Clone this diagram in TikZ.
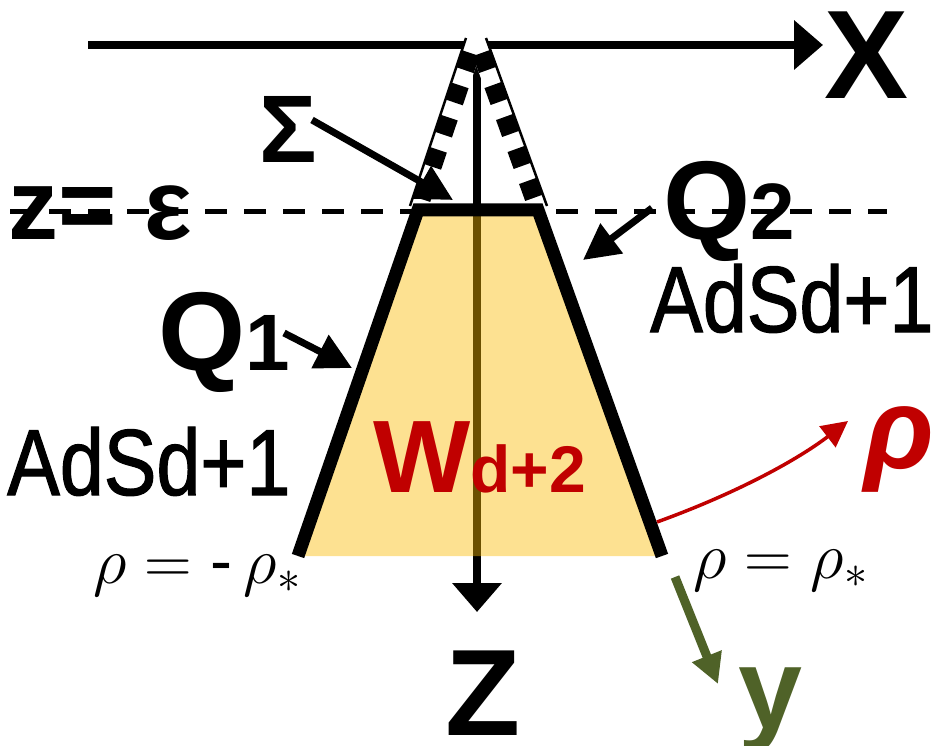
\RequirePackage{fix-cm}
\documentclass[tikz,border=0pt]{standalone}
\usepackage{fontspec}
\setmainfont{Liberation Sans}
\newfontfamily\adsfont{Liberation Sans}[FakeStretch=0.84,FakeBold=1.2]
\usetikzlibrary{arrows.meta}
\definecolor{trapfill}{RGB}{250,185,0}
\definecolor{wred}{RGB}{192,0,0}
\definecolor{ygreen}{RGB}{79,98,40}
\tikzset{
    axis/.style={line width=8pt,-{Triangle[length=29pt,width=48pt]}},
    pointer/.style={line width=7pt,-{Triangle[length=36pt,width=36pt]}},
    wall/.style={line width=13pt,line join=miter},
    band/.style={line width=18pt,dash pattern=on 18pt off 16pt,dash phase=18pt},
    bold/.style={inner sep=0pt,font=\bfseries\fontsize{#1}{#1}\selectfont},
    plain/.style={inner sep=0pt,font=\fontsize{#1}{#1}\selectfont}
}
\begin{document}
\begin{tikzpicture}[x=1pt,y=-1pt]
    \useasboundingbox (0,0) rectangle (934,746);
    \clip (0,0) rectangle (934,746);
    \coordinate (apex) at (476,38);
    \coordinate (tl) at (418,210);
    \coordinate (tr) at (538,210);
    \coordinate (br) at (662,556);
    \coordinate (bl) at (298,556);
    \coordinate (edgeltop) at (466,38);
    \coordinate (edgelbot) at (410,206);
    \coordinate (edgertop) at (486,38);
    \coordinate (edgerbot) at (547,206);
    \coordinate (xstart) at (88,45);
    \coordinate (xend) at (823,45);
    \coordinate (ztop) at (477,50);
    \coordinate (zend) at (477,612);
    \coordinate (epsl) at (10,212);
    \coordinate (epsr) at (887,212);
    \draw[line width=5pt,dash pattern=on 22pt off 17pt] (epsl) -- (epsr);
    \draw[axis] (xstart) -- (xend);
    \draw[axis] (ztop) -- (zend);
    \fill[trapfill,fill opacity=0.43] (tl) -- (tr) -- (br) -- (bl) -- cycle;
    \draw[white,line width=18pt] (apex) -- (tl);
    \draw[white,line width=18pt] (apex) -- (tr);
    \draw[band] (apex) -- (tl);
    \draw[band] (apex) -- (tr);
    \draw[line width=2.5pt] (edgeltop) -- (edgelbot);
    \draw[line width=2.5pt] (edgertop) -- (edgerbot);
    \draw[wall] (bl) -- (tl) -- (tr) -- (br);
    \node[bold=126] (xlab) at (867,55) {X};
    \node[bold=123,anchor=base] (zlab) at (483,735) {Z};
    \node[bold=96] (sig) at (288,129) {Σ};
    \node[bold=100,anchor=base west] (zeps) at (8,240) {z= ε};
    \node[bold=112,anchor=base west] (qone) at (158,370)
        {Q{\fontsize{80}{80}\selectfont 1}};
    \node[bold=112,anchor=base west] (qtwo) at (663,240)
        {Q{\fontsize{80}{80}\selectfont 2}};
    \node[plain=94,anchor=base west] (adsl) at (7,495) {\adsfont AdSd+1};
    \node[plain=94,anchor=base west] (adsr) at (650,332) {\adsfont AdSd+1};
    \node[bold=103,anchor=base west,text=wred] (wlab) at (373,492)
        {W{\fontsize{66}{66}\selectfont d+2}};
    \node[plain=66,anchor=base west] (rhol) at (93,583) {$\rho = \mbox{-}\,\rho_*$};
    \node[plain=66,anchor=base west] (rhor) at (693,578) {$\rho = \rho_*$};
    \node[inner sep=0pt,anchor=base west,text=wred,
        font=\bfseries\itshape\fontsize{115}{115}\selectfont] (rholab) at (864,468) {ρ};
    \node[bold=115,anchor=base west,text=ygreen] (ylab) at (738,728) {y};
    \coordinate (sigtail) at (312,120);
    \coordinate (sigtip) at (453,200);
    \coordinate (qtwotail) at (652,208);
    \coordinate (qtwotip) at (583,260);
    \coordinate (qonetail) at (284,333);
    \coordinate (qonetip) at (352,368);
    \coordinate (ytail) at (675,577);
    \coordinate (ytip) at (718,684);
    \coordinate (rhotail) at (657,522);
    \coordinate (rhotip) at (848,421);
    \draw[pointer] (sigtail) -- (sigtip);
    \draw[pointer] (qtwotail) -- (qtwotip);
    \draw[pointer] (qonetail) -- (qonetip);
    \draw[ygreen,line width=9pt,-{Triangle[length=30pt,width=30pt]}] (ytail) -- (ytip);
    \draw[wred,line width=3.5pt,-{Triangle[length=26pt,width=26pt]}]
        (rhotail) .. controls (740,492) and (800,458) .. (rhotip);
\end{tikzpicture}
\end{document}
